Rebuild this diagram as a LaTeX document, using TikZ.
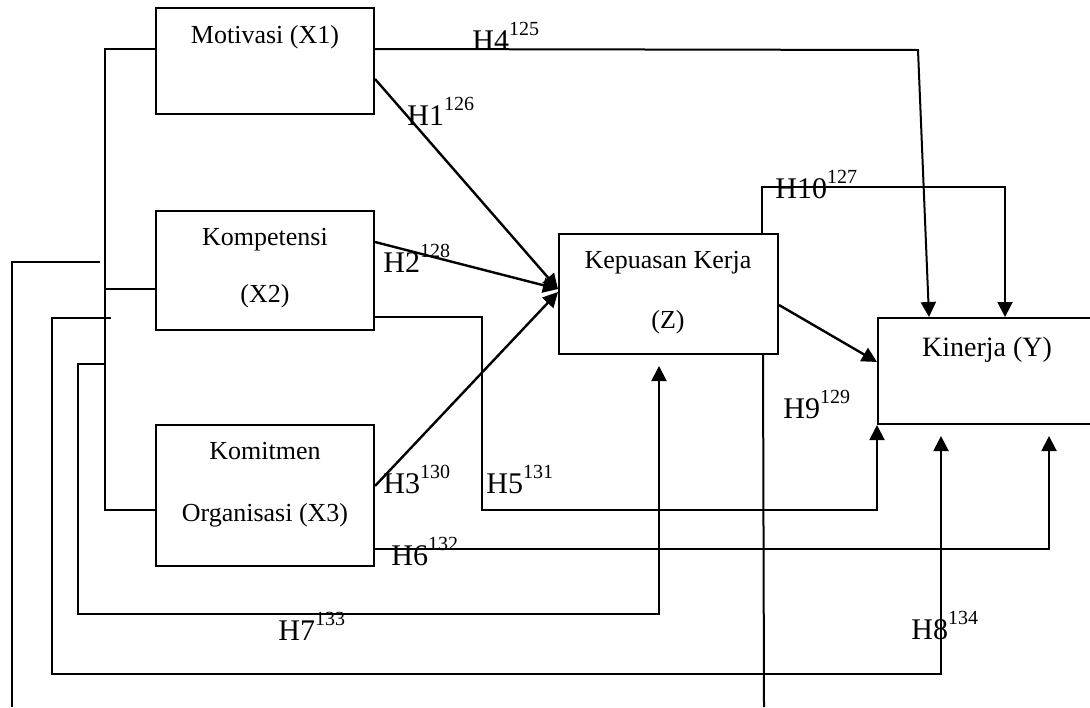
\documentclass[tikz,border=0pt]{standalone}
\usepackage{fontspec}
\setmainfont{Liberation Serif}
\usetikzlibrary{calc,arrows.meta}
\newcommand\hyp[2]{H#1\raisebox{0.47em}{\fontsize{10}{10}\selectfont #2}}
\begin{document}
\begin{tikzpicture}[x=0.5pt,y=-0.5pt,
  box/.style={draw,line width=1pt,inner sep=0pt},
  txt/.style={inner sep=0pt,anchor=base,font=\fontsize{13}{15}\selectfont},
  hlab/.style={inner sep=0pt,anchor=base west,font=\fontsize{15}{17}\selectfont},
  ln/.style={line width=1pt},
  arr/.style={line width=1pt,-{Triangle[length=7.5pt,width=7.5pt]}},
  thk/.style={line width=1.2pt}]
\useasboundingbox (0,0) rectangle (1090,707);
% boxes
\node[box,minimum width=109pt,minimum height=53pt] (m) at (265,61) {};
\node[box,minimum width=109pt,minimum height=59.5pt] (k) at (265,270.5) {};
\node[box,minimum width=109pt,minimum height=70.5pt] (o) at (265,495.5) {};
\node[box,minimum width=109.5pt,minimum height=60pt] (z) at (668.5,294) {};
\node[box,minimum width=110pt,minimum height=53pt] (y) at (988,371) {};
% box texts
\node[txt] (mt) at (265,43) {Motivasi (X1)};
\node[txt] (kt1) at (265,245) {Kompetensi};
\node[txt] (kt2) at (265,302) {(X2)};
\node[txt] (ot1) at (265,459) {Komitmen};
\node[txt] (ot2) at (265,521) {Organisasi (X3)};
\node[txt] (zt1) at (668,268) {Kepuasan Kerja};
\node[txt] (zt2) at (668,328) {(Z)};
\node[txt,font=\fontsize{14}{16}\selectfont] (yt) at (987,356) {Kinerja (Y)};
% free coordinates
\coordinate (a1) at (100,262);
\coordinate (a2) at (12,707);
\coordinate (c1) at (111,318);
\coordinate (c2) at (52,674);
\coordinate (d1) at (106,364);
\coordinate (d2) at (78,614);
\coordinate (e1) at (482,510);
\coordinate (h4c) at (918,50);
\coordinate (zb) at (764,707);
% left bracket
\draw[ln] ($(m.north west)+(0,42)$) -- ++(-50,0) |- ($(o.north west)+(0,86)$);
\draw[ln] ($(k.north west)+(0,79)$) -- ++(-50,0);
% outer long line
\draw[ln] (a1) -| (a2);
% H8
\draw[arr] (c1) -| (c2) -| ($(y.south west)+(64,11)$);
% H7
\draw[arr] (d1) -| (d2) -| ($(z.south west)+(101,11)$);
% H5
\draw[arr] ($(k.north east)+(0,107)$) -| (e1) -| (y.south west);
% H6
\draw[arr] ($(o.north east)+(0,125)$) -| ($(y.south west)+(172,11)$);
% H4
\draw[arr] ($(m.north east)+(0,42)$) -- (h4c) -- ($(y.north west)+(52,0)$);
% H1, H2, H3
\draw[arr,thk] ($(m.north east)+(0,72)$) -- ($(z.north west)+(0,56)$);
\draw[arr,thk] ($(k.north east)+(0,32)$) -- ($(z.north west)+(0,56)$);
\draw[arr,thk] ($(o.north east)+(0,62)$) -- ($(z.north west)+(0,59)$);
% H9
\draw[arr,thk] ($(z.north east)+(0,72)$) -- ($(y.north west)+(0,45)$);
% H10
\draw[arr] ($(z.north west)+(204,0)$) |- ($(y.north west)+(128,-130)$) -- ($(y.north west)+(128,0)$);
% line down from Z
\draw[ln] ($(z.south west)+(205,0)$) -- (zb);
% labels
\node[hlab] (l4) at (472,50) {\hyp{4}{125}};
\node[hlab] (l1) at (407,125) {\hyp{1}{126}};
\node[hlab] (l2) at (383,272) {\hyp{2}{128}};
\node[hlab] (l10) at (775,198) {\hyp{10}{127}};
\node[hlab] (l9) at (783,418) {\hyp{9}{129}};
\node[hlab] (l3) at (383,493) {\hyp{3}{130}};
\node[hlab] (l5) at (486,493) {\hyp{5}{131}};
\node[hlab] (l6) at (391,565) {\hyp{6}{132}};
\node[hlab] (l7) at (278,640) {\hyp{7}{133}};
\node[hlab] (l8) at (911,639) {\hyp{8}{134}};
\end{tikzpicture}
\end{document}
